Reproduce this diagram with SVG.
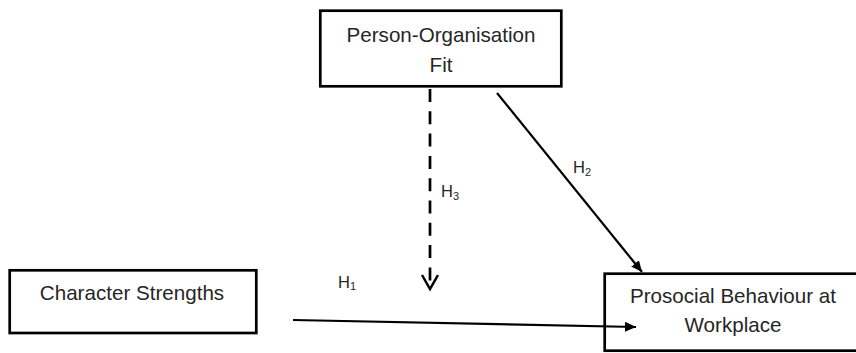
<svg xmlns="http://www.w3.org/2000/svg" width="856" height="353" viewBox="0 0 856 353">
  <style>
    .box { fill: #ffffff; stroke: #000000; stroke-width: 2.7; }
    .lbl { font-family: "Liberation Sans", Arial, sans-serif; font-size: 20.6px; fill: #262626; text-anchor: middle; }
    .hyp { font-family: "Liberation Sans", Arial, sans-serif; font-size: 16.5px; fill: #262626; }
    .sub { font-size: 11px; }
    .edge { fill: none; stroke: #000000; stroke-width: 2.2; }
    .dash { fill: none; stroke: #000000; stroke-width: 2.7; stroke-dasharray: 13 9.3; }
  </style>
  <defs>
    <marker id="arrowFilled" markerUnits="userSpaceOnUse" markerWidth="12" markerHeight="11" refX="11" refY="5" orient="auto">
      <path d="M0,0 L11,5 L0,10 Z" fill="#000000"/>
    </marker>
    <marker id="arrowOpen" markerUnits="userSpaceOnUse" markerWidth="18" markerHeight="20" refX="15" refY="9" orient="auto">
      <path d="M1,1 L15,9 L1,17" fill="none" stroke="#000000" stroke-width="2.5"/>
    </marker>
  </defs>
  <rect width="856" height="353" fill="#ffffff"/>

  <g id="node-po-fit">
    <rect class="box" x="320.3" y="10.7" width="241" height="75.6"/>
    <text class="lbl" x="441" y="42">Person-Organisation</text>
    <text class="lbl" x="441" y="72">Fit</text>
  </g>

  <g id="node-character">
    <rect class="box" x="9.7" y="270.3" width="246.6" height="62.7"/>
    <text class="lbl" x="132" y="300">Character Strengths</text>
  </g>

  <g id="node-prosocial">
    <rect class="box" x="604.7" y="273.7" width="270" height="77"/>
    <text class="lbl" x="733" y="303">Prosocial Behaviour at</text>
    <text class="lbl" x="733" y="332">Workplace</text>
  </g>

  <g id="connectors">
    <line id="h1" class="edge" x1="293" y1="320" x2="636" y2="327" marker-end="url(#arrowFilled)"/>
    <line id="h2" class="edge" x1="497" y1="93" x2="642" y2="272" marker-end="url(#arrowFilled)"/>
    <line id="h3" class="dash" x1="430" y1="89" x2="430" y2="289" marker-end="url(#arrowOpen)"/>
    <text class="hyp" x="338" y="288">H<tspan class="sub" dy="2">1</tspan></text>
    <text class="hyp" x="573" y="173">H<tspan class="sub" dy="3">2</tspan></text>
    <text class="hyp" x="441" y="197">H<tspan class="sub" dy="3">3</tspan></text>
  </g>
</svg>
